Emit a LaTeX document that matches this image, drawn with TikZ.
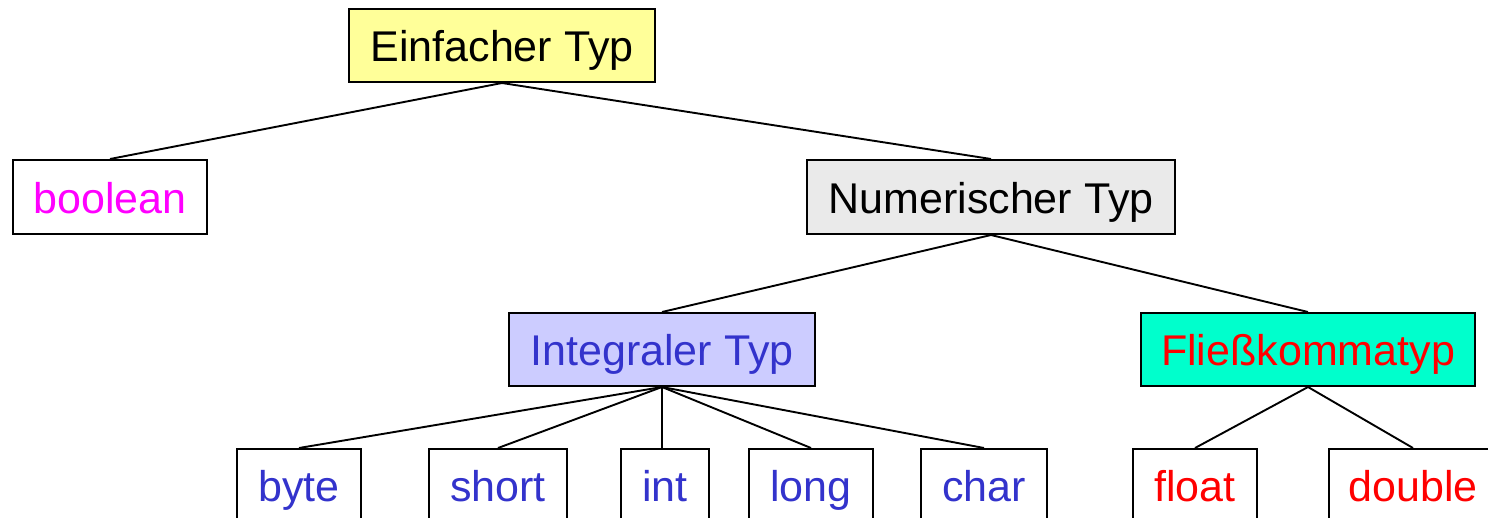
\documentclass[tikz,border=0pt]{standalone}
\usepackage{fontspec}
\setmainfont{Liberation Sans}
\definecolor{rootfill}{HTML}{FFFF99}
\definecolor{numfill}{HTML}{EAEAEA}
\definecolor{intfill}{HTML}{CCCCFF}
\definecolor{floatfill}{HTML}{00FFCC}
\definecolor{intblue}{HTML}{3333CC}
\definecolor{boolmag}{HTML}{FF00FF}
\definecolor{floatred}{HTML}{FF0000}
\tikzset{
  typbox/.style={draw=black, line width=2pt, rectangle, inner sep=0pt,
    font=\fontsize{43}{47}\selectfont, text height=38pt, text depth=6pt},
  link/.style={draw=black, line width=1.9pt}
}
\begin{document}
\begin{tikzpicture}[x=1pt,y=-1pt]
\useasboundingbox (0,0) rectangle (1488,517);
% top level
\node[typbox, fill=rootfill, minimum width=306pt, minimum height=73pt] (root) at (502,45.5) {Einfacher Typ};
% second level
\node[typbox, fill=white, text=boolmag, minimum width=194pt, minimum height=74pt] (bool) at (110,197) {boolean};
\node[typbox, fill=numfill, minimum width=368pt, minimum height=74pt] (num) at (991,197) {Numerischer Typ};
% third level
\node[typbox, fill=intfill, text=intblue, minimum width=306pt, minimum height=73pt] (intg) at (662,349.5) {Integraler Typ};
\node[typbox, fill=floatfill, text=floatred, minimum width=334pt, minimum height=73pt] (flk) at (1308,349.5) {Fließkommatyp};
% leaves
\node[typbox, fill=white, text=intblue, minimum width=124pt, minimum height=73pt] (byte) at (299,485.5) {byte};
\node[typbox, fill=white, text=intblue, minimum width=138pt, minimum height=73pt] (short) at (498,485.5) {short};
\node[typbox, fill=white, text=intblue, minimum width=88pt, minimum height=73pt] (int) at (665,485.5) {int};
\node[typbox, fill=white, text=intblue, minimum width=124pt, minimum height=73pt] (long) at (811,485.5) {long};
\node[typbox, fill=white, text=intblue, minimum width=126pt, minimum height=73pt] (char) at (984,485.5) {char};
\node[typbox, fill=white, text=floatred, minimum width=124pt, minimum height=73pt] (float) at (1195,485.5) {float};
\node[typbox, fill=white, text=floatred, minimum width=168pt, minimum height=73pt] (double) at (1413,485.5) {double};
% connectors
\draw[link] (root.south) -- (bool.north);
\draw[link] (root.south) -- (num.north);
\draw[link] (num.south) -- (intg.north);
\draw[link] (num.south) -- (flk.north);
\foreach \leaf in {byte,short,long,char}
  \draw[link] (intg.south) -- (\leaf.north);
\draw[link] (intg.south) -- (int.north -| intg.south);
\draw[link] (flk.south) -- (float.north);
\draw[link] (flk.south) -- (double.north);
\end{tikzpicture}
\end{document}
